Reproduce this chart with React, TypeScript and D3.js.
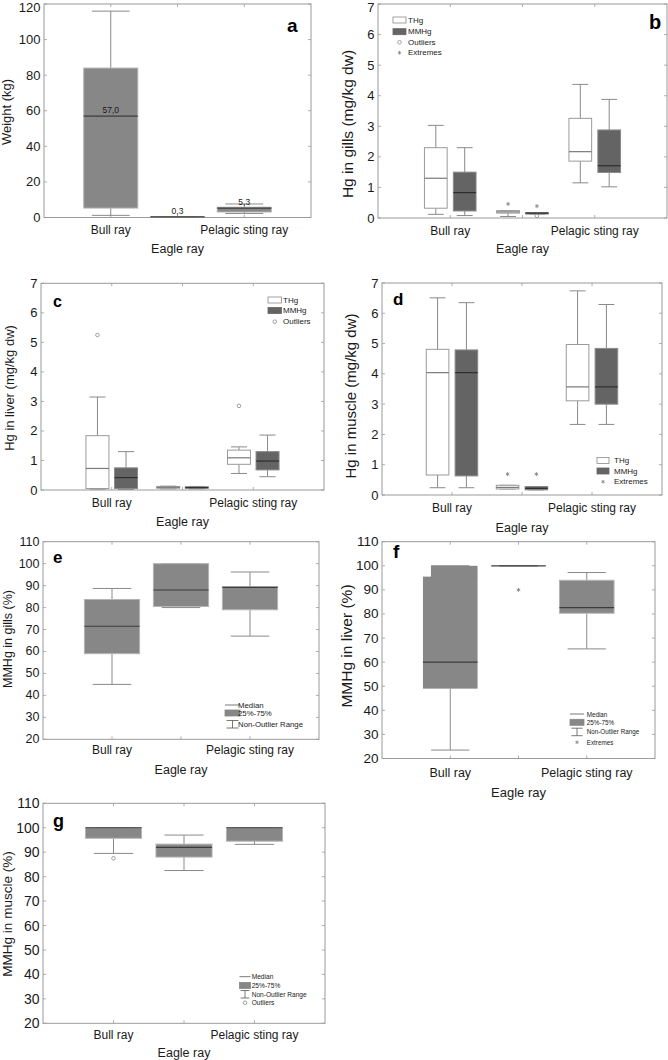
import React from "react";
import * as d3 from "d3";

// ---------- DATA ----------
const categories = ["Bull ray", "Eagle ray", "Pelagic sting ray"];
const axisGroup = "Eagle ray";

// each box: [min, q1, median, q3, max]
const weightBoxes = [
  [1.2, 5.3, 57.0, 84.0, 116.0],
  [0.15, 0.2, 0.3, 0.4, 0.45],
  [2.3, 3.1, 5.3, 5.8, 7.6],
];
const weightMedianLabels = ["57,0", "0,3", "5,3"];

const gillsTHg = [
  [0.12, 0.32, 1.3, 2.3, 3.03],
  [0.05, 0.16, 0.2, 0.24, 0.24],
  [1.15, 1.86, 2.17, 3.26, 4.37],
];
const gillsMMHg = [
  [0.08, 0.23, 0.83, 1.5, 2.3],
  [0.13, 0.13, 0.16, 0.18, 0.18],
  [1.02, 1.49, 1.71, 2.88, 3.88],
];
const gillsOutliers = [{ cat: 1, series: 1, value: 0.07 }];
const gillsExtremes = [
  { cat: 1, series: 0, value: 0.46 },
  { cat: 1, series: 1, value: 0.39 },
];

const liverTHg = [
  [0.03, 0.05, 0.73, 1.84, 3.15],
  [0.04, 0.06, 0.09, 0.12, 0.13],
  [0.56, 0.87, 1.09, 1.35, 1.46],
];
const liverMMHg = [
  [0.02, 0.05, 0.42, 0.75, 1.3],
  [0.04, 0.06, 0.08, 0.11, 0.12],
  [0.45, 0.68, 0.98, 1.3, 1.86],
];
const liverOutliers = [
  { cat: 0, series: 0, value: 5.25 },
  { cat: 2, series: 0, value: 2.85 },
];

const muscleTHg = [
  [0.24, 0.66, 4.04, 4.81, 6.51],
  [0.2, 0.2, 0.25, 0.32, 0.32],
  [2.33, 3.11, 3.57, 4.97, 6.74],
];
const muscleMMHg = [
  [0.24, 0.63, 4.04, 4.79, 6.35],
  [0.17, 0.17, 0.22, 0.28, 0.28],
  [2.33, 3.0, 3.57, 4.84, 6.29],
];
const muscleExtremes = [
  { cat: 1, series: 0, value: 0.69 },
  { cat: 1, series: 1, value: 0.69 },
];

const gillsPct = [
  [45, 59, 71.5, 83.7, 88.7],
  [80, 80.5, 88, 100, 100],
  [67, 79, 89.2, 89.5, 96.2],
];
const liverPct = [
  [23.5, 49, 60, 100, 100],
  [100, 100, 100, 100, 100],
  [65.5, 80.3, 82.6, 94, 97.2],
];
const liverPctStep = [{ cat: 0, value: 95.5 }];
const liverPctExtremes = [{ cat: 1, series: 0, value: 90 }];

const musclePct = [
  [89.5, 95.7, 100, 100, 100],
  [82.5, 88, 92, 93.3, 97],
  [93.2, 94.5, 100, 100, 100],
];
const musclePctOutliers = [{ cat: 0, series: 0, value: 87.5 }];

const hgTicks = [0, 1, 2, 3, 4, 5, 6, 7];
const weightTicks = [0, 20, 40, 60, 80, 100, 120];
const pctTicks = [20, 30, 40, 50, 60, 70, 80, 90, 100, 110];

// ---------- STYLE ----------
const FONT = "'Liberation Sans', Arial, Helvetica, sans-serif";
const FRAME = "#9a9a9a";
const TEXT = "#1a1a1a";
const GRAY_FILL = "#878787";
const GRAY_STROKE = "#b4b4b4";
const DARK_FILL = "#646464";
const WHISKER = "#8a8a8a";

type Pt = { cat: number; series: number; value: number };
type Series = { boxes: number[][]; fill: string; stroke: string; median: string };
type LegendItem = { kind: "box" | "median" | "range" | "outlier" | "extreme"; label: string; fill?: string; stroke?: string };

interface PanelDef {
  x0: number; x1: number; y0: number; y1: number;
  domain: [number, number];
  ticks: number[];
  series: Series[];
  boxFrac: number;
  offsetFrac: number;
  outliers?: Pt[];
  extremes?: Pt[];
  steps?: { cat: number; value: number }[];
  medianLabels?: string[];
  title: string; titleX: number; titleCY: number; titleSize: number;
  tickSize: number; catSize: number; catY: number; groupY: number;
  letter: string; letterX: number; letterY: number; letterSize: number;
  legend: LegendItem[];
  legendX: number; legendY: number[]; legendSize: number; legendIconW: number; legendTextX: number;
}

const thgSeries = (b: number[][]): Series => ({ boxes: b, fill: "#ffffff", stroke: "#9a9a9a", median: "#7a7a7a" });
const mmhgSeries = (b: number[][]): Series => ({ boxes: b, fill: DARK_FILL, stroke: "#8a8a8a", median: "#2e2e2e" });
const graySeries = (b: number[][]): Series => ({ boxes: b, fill: GRAY_FILL, stroke: GRAY_STROKE, median: "#3c3c3c" });

const panels: PanelDef[] = [
  {
    x0: 44, x1: 311, y0: 4, y1: 217.5, domain: [0, 120], ticks: weightTicks,
    series: [graySeries(weightBoxes)], boxFrac: 0.81, offsetFrac: 0,
    medianLabels: weightMedianLabels,
    title: "Weight (kg)", titleX: 6, titleCY: 112, titleSize: 13,
    tickSize: 13, catSize: 12, catY: 230, groupY: 249,
    letter: "a", letterX: 287, letterY: 32, letterSize: 19,
    legend: [], legendX: 0, legendY: [], legendSize: 8, legendIconW: 13, legendTextX: 0,
  },
  {
    x0: 378, x1: 667, y0: 4, y1: 218, domain: [0, 7], ticks: hgTicks,
    series: [thgSeries(gillsTHg), mmhgSeries(gillsMMHg)], boxFrac: 0.314, offsetFrac: 0.2,
    outliers: gillsOutliers, extremes: gillsExtremes,
    title: "Hg in gills (mg/kg dw)", titleX: 347.5, titleCY: 124, titleSize: 15.5,
    tickSize: 13, catSize: 12, catY: 230.5, groupY: 249,
    letter: "b", letterX: 649, letterY: 29, letterSize: 20,
    legend: [
      { kind: "box", label: "THg", fill: "#ffffff", stroke: "#8a8a8a" },
      { kind: "box", label: "MMHg", fill: DARK_FILL, stroke: DARK_FILL },
      { kind: "outlier", label: "Outliers" },
      { kind: "extreme", label: "Extremes" },
    ],
    legendX: 393, legendY: [20, 31.7, 42.3, 52.7], legendSize: 8, legendIconW: 13, legendTextX: 408,
  },
  {
    x0: 41, x1: 324, y0: 283.3, y1: 490, domain: [0, 7], ticks: hgTicks,
    series: [thgSeries(liverTHg), mmhgSeries(liverMMHg)], boxFrac: 0.325, offsetFrac: 0.202,
    outliers: liverOutliers,
    title: "Hg in liver (mg/kg dw)", titleX: 9, titleCY: 388, titleSize: 13,
    tickSize: 13, catSize: 12, catY: 502.5, groupY: 521.5,
    letter: "c", letterX: 53, letterY: 307, letterSize: 16,
    legend: [
      { kind: "box", label: "THg", fill: "#ffffff", stroke: "#8a8a8a" },
      { kind: "box", label: "MMHg", fill: DARK_FILL, stroke: DARK_FILL },
      { kind: "outlier", label: "Outliers" },
    ],
    legendX: 268, legendY: [300, 310.5, 321.7], legendSize: 8, legendIconW: 13.5, legendTextX: 283,
  },
  {
    x0: 382, x1: 662, y0: 283, y1: 495, domain: [0, 7], ticks: hgTicks,
    series: [thgSeries(muscleTHg), mmhgSeries(muscleMMHg)], boxFrac: 0.323, offsetFrac: 0.206,
    extremes: muscleExtremes,
    title: "Hg in muscle (mg/kg dw)", titleX: 350, titleCY: 396, titleSize: 15,
    tickSize: 13, catSize: 12, catY: 508, groupY: 528,
    letter: "d", letterX: 393, letterY: 305, letterSize: 17,
    legend: [
      { kind: "box", label: "THg", fill: "#ffffff", stroke: "#8a8a8a" },
      { kind: "box", label: "MMHg", fill: DARK_FILL, stroke: DARK_FILL },
      { kind: "extreme", label: "Extremes" },
    ],
    legendX: 597, legendY: [460.5, 471, 481.7], legendSize: 8, legendIconW: 12, legendTextX: 614,
  },
  {
    x0: 43, x1: 319, y0: 541.7, y1: 739.3, domain: [20, 110], ticks: pctTicks,
    series: [graySeries(gillsPct)], boxFrac: 0.8, offsetFrac: 0,
    title: "MMHg in gills (%)", titleX: 7.5, titleCY: 639, titleSize: 12.5,
    tickSize: 12.5, catSize: 12, catY: 750, groupY: 770,
    letter: "e", letterX: 53, letterY: 563, letterSize: 17,
    legend: [
      { kind: "median", label: "Median" },
      { kind: "box", label: "25%-75%", fill: GRAY_FILL, stroke: GRAY_FILL },
      { kind: "range", label: "Non-Outlier Range" },
    ],
    legendX: 225, legendY: [705, 713, 724], legendSize: 7.8, legendIconW: 15, legendTextX: 238,
  },
  {
    x0: 382, x1: 655, y0: 541.7, y1: 758.5, domain: [20, 110], ticks: pctTicks,
    series: [graySeries(liverPct)], boxFrac: 0.8, offsetFrac: 0,
    extremes: liverPctExtremes, steps: liverPctStep,
    title: "MMHg in liver (%)", titleX: 346.5, titleCY: 646, titleSize: 15.5,
    tickSize: 13.5, catSize: 12.5, catY: 773, groupY: 792,
    letter: "f", letterX: 393, letterY: 558, letterSize: 19,
    legend: [
      { kind: "median", label: "Median" },
      { kind: "box", label: "25%-75%", fill: GRAY_FILL, stroke: GRAY_FILL },
      { kind: "range", label: "Non-Outlier Range" },
      { kind: "extreme", label: "Extremes" },
    ],
    legendX: 570, legendY: [714, 722.3, 731.7, 742.3], legendSize: 6.3, legendIconW: 14, legendTextX: 586.7,
  },
  {
    x0: 43, x1: 325, y0: 803.3, y1: 1023.3, domain: [20, 110], ticks: pctTicks,
    series: [graySeries(musclePct)], boxFrac: 0.795, offsetFrac: 0,
    outliers: musclePctOutliers,
    title: "MMHg in muscle (%)", titleX: 7.5, titleCY: 914, titleSize: 13.5,
    tickSize: 14, catSize: 12, catY: 1035, groupY: 1053,
    letter: "g", letterX: 53, letterY: 827, letterSize: 18,
    legend: [
      { kind: "median", label: "Median" },
      { kind: "box", label: "25%-75%", fill: GRAY_FILL, stroke: GRAY_FILL },
      { kind: "range", label: "Non-Outlier Range" },
      { kind: "outlier", label: "Outliers" },
    ],
    legendX: 239.5, legendY: [976.7, 985.5, 994, 1002.7], legendSize: 6.6, legendIconW: 11, legendTextX: 251.7,
  },
];

// ---------- MARKERS ----------
const Star = ({ x, y, r = 2 }: { x: number; y: number; r?: number }) => {
  const a = r * 0.87;
  const h = r * 0.5;
  return (
    <path
      d={`M${x},${y - r}L${x},${y + r}M${x - a},${y - h}L${x + a},${y + h}M${x - a},${y + h}L${x + a},${y - h}`}
      stroke="#8a8a8a"
      strokeWidth={0.9}
      fill="none"
    />
  );
};
const Ring = ({ x, y }: { x: number; y: number }) => (
  <circle cx={x} cy={y} r={1.8} fill="none" stroke="#888" strokeWidth={0.8} />
);

// ---------- PANEL ----------
function Panel({ p }: { p: PanelDef }) {
  const x = d3.scalePoint<string>().domain(categories).range([p.x0, p.x1]).padding(1);
  const y = d3.scaleLinear().domain(p.domain).range([p.y1, p.y0]);
  const step = x.step();
  const bw = step * p.boxFrac;
  const cw = bw * 0.7;
  const nS = p.series.length;
  const cx = (cat: number, s: number) =>
    (x(categories[cat]) as number) + (nS > 1 ? (s === 0 ? -1 : 1) * step * p.offsetFrac : 0);

  return (
    <g>
      {/* frame */}
      <rect x={p.x0} y={p.y0} width={p.x1 - p.x0} height={p.y1 - p.y0} fill="none" stroke={FRAME} strokeWidth={1} />
      {/* ticks */}
      {p.ticks.map((t) => (
        <g key={"t" + t}>
          <line x1={p.x1} x2={p.x1 - 3} y1={y(t)} y2={y(t)} stroke={FRAME} strokeWidth={0.8} />
          <line x1={p.x0} x2={p.x0 + 3} y1={y(t)} y2={y(t)} stroke={FRAME} strokeWidth={0.8} />
          <text
            x={p.x0 - 3.5}
            y={Math.max(y(t), p.tickSize * 0.5 + 0.5)}
            textAnchor="end"
            dominantBaseline="central"
            fontSize={p.tickSize}
            fill={TEXT}
          >
            {t}
          </text>
        </g>
      ))}
      {categories.map((c) => (
        <g key={"c" + c}>
          <line x1={x(c)} x2={x(c)} y1={p.y0} y2={p.y0 + 3} stroke={FRAME} strokeWidth={0.8} />
          <line x1={x(c)} x2={x(c)} y1={p.y1} y2={p.y1 - 3} stroke={FRAME} strokeWidth={0.8} />
        </g>
      ))}
      {/* x labels: first and last category on upper line, middle one as group label */}
      <text x={x(categories[0])} y={p.catY} textAnchor="middle" dominantBaseline="central" fontSize={p.catSize} fill={TEXT}>
        {categories[0]}
      </text>
      <text x={x(categories[2])} y={p.catY} textAnchor="middle" dominantBaseline="central" fontSize={p.catSize} fill={TEXT}>
        {categories[2]}
      </text>
      <text x={x(categories[1])} y={p.groupY} textAnchor="middle" dominantBaseline="central" fontSize={p.catSize + 0.5} fill={TEXT}>
        {axisGroup}
      </text>
      {/* y title */}
      <text
        transform={`translate(${p.titleX},${p.titleCY}) rotate(-90)`}
        textAnchor="middle"
        dominantBaseline="central"
        fontSize={p.titleSize}
        fill={TEXT}
      >
        {p.title}
      </text>
      {/* boxes */}
      {p.series.map((s, si) =>
        s.boxes.map((b, ci) => {
          const [mn, q1, md, q3, mx] = b;
          const c = cx(ci, si);
          const step2 = p.steps?.find((st) => st.cat === ci);
          return (
            <g key={`b${si}-${ci}`}>
              <line x1={c} x2={c} y1={y(mx)} y2={y(q3)} stroke={WHISKER} strokeWidth={1} />
              <line x1={c} x2={c} y1={y(q1)} y2={y(mn)} stroke={WHISKER} strokeWidth={1} />
              <line x1={c - cw / 2} x2={c + cw / 2} y1={y(mx)} y2={y(mx)} stroke={WHISKER} strokeWidth={1} />
              <line x1={c - cw / 2} x2={c + cw / 2} y1={y(mn)} y2={y(mn)} stroke={WHISKER} strokeWidth={1} />
              {step2 ? (
                <g>
                  <rect x={c - bw / 2} y={y(step2.value)} width={bw} height={y(q1) - y(step2.value)} fill={s.fill} />
                  <rect x={c - bw / 2 + 8} y={y(q3)} width={bw - 8} height={y(step2.value) - y(q3) + 0.5} fill={s.fill} />
                </g>
              ) : (
                <rect
                  x={c - bw / 2}
                  y={y(q3)}
                  width={bw}
                  height={Math.max(y(q1) - y(q3), 0)}
                  fill={s.fill}
                  stroke={s.stroke}
                  strokeWidth={1}
                />
              )}
              <line x1={c - bw / 2} x2={c + bw / 2} y1={y(md)} y2={y(md)} stroke={s.median} strokeWidth={1.2} />
              {p.medianLabels && (
                <text x={c} y={y(md) - 3} textAnchor="middle" fontSize={8.5} fill={TEXT}>
                  {p.medianLabels[ci]}
                </text>
              )}
            </g>
          );
        })
      )}
      {(p.outliers || []).map((o, i) => (
        <Ring key={"o" + i} x={cx(o.cat, o.series)} y={y(o.value)} />
      ))}
      {(p.extremes || []).map((o, i) => (
        <Star key={"e" + i} x={cx(o.cat, o.series)} y={y(o.value)} />
      ))}
      {/* panel letter */}
      <text x={p.letterX} y={p.letterY} fontSize={p.letterSize} fontWeight="bold" fill="#000">
        {p.letter}
      </text>
      {/* legend */}
      {p.legend.map((it, i) => {
        const ly = p.legendY[i];
        const w = p.legendIconW;
        const mx = p.legendX + w / 2;
        let icon: React.ReactNode = null;
        if (it.kind === "box") {
          icon = <rect x={p.legendX} y={ly - 3} width={w} height={6} fill={it.fill} stroke={it.stroke} strokeWidth={0.8} />;
        } else if (it.kind === "median") {
          icon = <line x1={p.legendX} x2={p.legendX + w} y1={ly} y2={ly} stroke="#555" strokeWidth={0.8} />;
        } else if (it.kind === "range") {
          icon = (
            <g stroke="#555" strokeWidth={0.8}>
              <line x1={mx - w * 0.4} x2={mx + w * 0.4} y1={ly - 3.5} y2={ly - 3.5} />
              <line x1={mx} x2={mx} y1={ly - 3.5} y2={ly + 4} />
              <line x1={mx - w * 0.4} x2={mx + w * 0.4} y1={ly + 4} y2={ly + 4} />
            </g>
          );
        } else if (it.kind === "outlier") {
          icon = <Ring x={mx} y={ly} />;
        } else {
          icon = <Star x={mx} y={ly} r={1.8} />;
        }
        return (
          <g key={"l" + i}>
            {icon}
            <text x={p.legendTextX} y={ly} dominantBaseline="central" fontSize={p.legendSize} fill={TEXT}>
              {it.label}
            </text>
          </g>
        );
      })}
    </g>
  );
}

export default function App() {
  return (
    <svg
      width={668}
      height={1060}
      style={{ position: "absolute", left: 0, top: 0, background: "#fff", fontFamily: FONT }}
      fontFamily={FONT}
    >
      <rect x={0} y={0} width={668} height={1060} fill="#fff" />
      {panels.map((p, i) => (
        <Panel key={i} p={p} />
      ))}
    </svg>
  );
}
